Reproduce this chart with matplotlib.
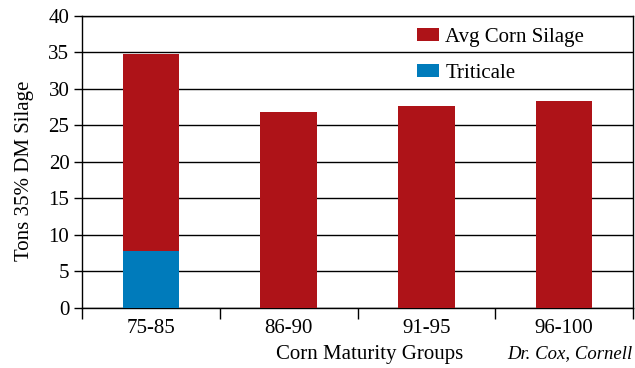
import matplotlib.pyplot as plt
import numpy as np

groups = ["75-85", "86-90", "91-95", "96-100"]
triticale = [7.8, 0, 0, 0]
corn_silage = [27.0, 26.8, 27.7, 28.4]

red = "#ae1318"
blue = "#007bbb"

plt.rcParams["font.family"] = ["Liberation Serif", "DejaVu Serif"]

fig = plt.figure(figsize=(6.35, 3.68), dpi=100)
ax = fig.add_axes([0.129, 0.163, 0.868, 0.794])

x = np.arange(len(groups))
b_tri = ax.bar(x, triticale, width=0.41, color=blue, zorder=3, label="Triticale")
b_corn = ax.bar(x, corn_silage, width=0.41, bottom=triticale, color=red, zorder=3,
                label="Avg Corn Silage")

ax.set_xlim(-0.5, len(groups) - 0.5)
ax.set_ylim(0, 40)
ax.set_yticks(range(0, 41, 5))
ax.set_xticks(x)
ax.set_xticklabels(groups, fontsize=15)
ax.set_xticks(np.arange(-0.5, len(groups), 1), minor=True)
ax.tick_params(axis="x", which="major", length=0, pad=8)
ax.tick_params(axis="x", which="minor", length=8, width=1, color="black")
ax.tick_params(axis="y", length=6, width=1, labelsize=15, pad=3)

ax.grid(axis="y", color="black", linewidth=1, zorder=0)
for s in ax.spines.values():
    s.set_linewidth(1)
    s.set_color("black")

ax.set_ylabel("Tons 35% DM Silage", fontsize=15)
ax.yaxis.set_label_coords(-0.087, 0.47)
ax.set_xlabel("Corn Maturity Groups", fontsize=15)
ax.xaxis.set_label_coords(0.522, -0.125)

fig.text(0.996, 0.015, "Dr. Cox, Cornell", ha="right", va="bottom", fontsize=13.5,
         style="italic")

ax.legend([b_corn, b_tri], ["Avg Corn Silage", "Triticale"], loc="upper left",
          bbox_to_anchor=(0.608, 0.958), frameon=False, fontsize=15,
          handlelength=1.06, handleheight=0.55, handletextpad=0.3,
          labelspacing=0.8, borderaxespad=0, borderpad=0)

fig.savefig("out.png", dpi=100)
